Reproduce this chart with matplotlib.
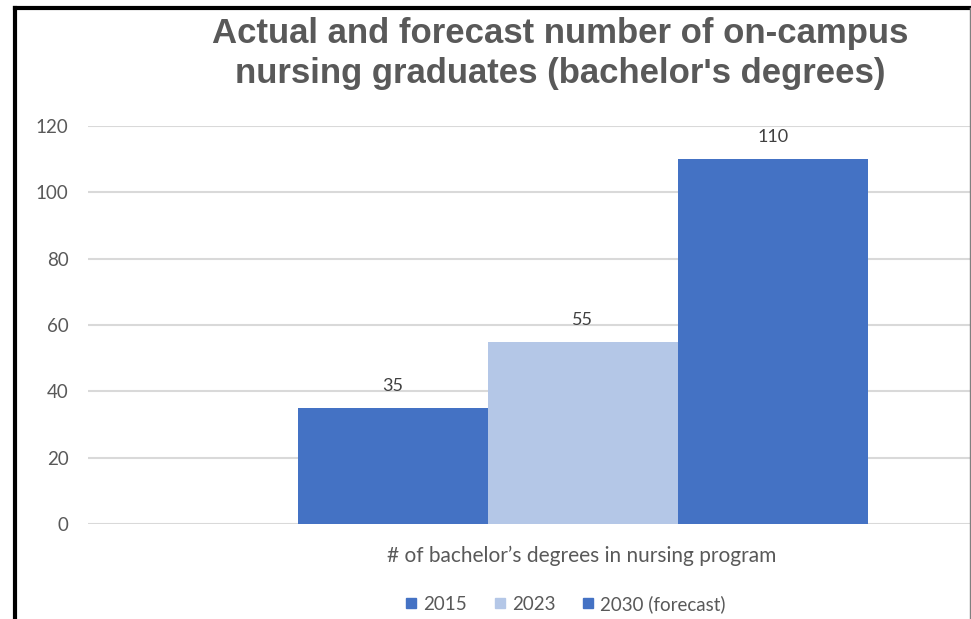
import matplotlib
matplotlib.use("Agg")
from matplotlib import pyplot as plt
from matplotlib.lines import Line2D

years = ["2015", "2023", "2030 (forecast)"]
graduates = [35, 55, 110]
colors = ["#4472C4", "#B4C7E7", "#4472C4"]
y_ticks = [0, 20, 40, 60, 80, 100, 120]
title = "Actual and forecast number of on-campus\nnursing graduates (bachelor's degrees)"
x_label = "# of bachelor\u2019s degrees in nursing program"

fig = plt.figure(figsize=(9.71, 6.19), dpi=100)
ax = fig.add_axes([88 / 971, 1 - 524 / 619, (970 - 88) / 971, (524 - 126) / 619])

positions = list(range(len(years)))
bars = ax.bar(positions, graduates, width=1.0, color=colors, label=years, zorder=3)

for b, v in zip(bars, graduates):
    ax.annotate(str(v), (b.get_x() + b.get_width() / 2, v), xytext=(0, 10),
                textcoords="offset points", ha="center", va="bottom",
                fontsize=13, color="#404040", family="Lato", annotation_clip=False)

ax.set_xlim(-1.605, 3.037)
ax.set_ylim(0, 120)
ax.set_yticks(y_ticks)
ax.set_xticks([])
ax.tick_params(axis="y", length=0, pad=14, labelsize=13.5, labelcolor="#595959")
for lab in ax.get_yticklabels():
    lab.set_family("Lato")
ax.grid(axis="y", color="#D9D9D9", linewidth=1.5, zorder=0)
for s in ax.spines.values():
    s.set_visible(False)

ax.set_xlabel(x_label, fontsize=15, color="#595959", family="Lato")
ax.xaxis.set_label_coords((582 - 88) / 882, (524 - 556) / 398)
ax.xaxis.label.set_va("center")

handles = [Line2D([], [], marker="s", linestyle="none", markersize=7.5, color=c) for c in colors]
fig.legend(handles, years, loc="center", bbox_to_anchor=(565 / 971, 1 - 604 / 619), ncol=3,
           frameon=False, handlelength=0.7, handletextpad=0.3, columnspacing=1.4,
           prop={"family": "Lato", "size": 13.5}, labelcolor="#595959")

fig.text(560 / 971, 1 - 17 / 619, title, ha="center", va="top", fontsize=25,
         fontweight="bold", color="#595959", family="Liberation Sans", linespacing=1.27)

# black frame on left / top, thin gray on right
fig.add_artist(Line2D([14.5 / 971, 14.5 / 971], [0, 1 - 7.5 / 619], color="black", linewidth=3,
                      transform=fig.transFigure, solid_capstyle="projecting"))
fig.add_artist(Line2D([14.5 / 971, 1], [1 - 7.5 / 619, 1 - 7.5 / 619], color="black", linewidth=3,
                      transform=fig.transFigure))
fig.add_artist(Line2D([969.5 / 971, 969.5 / 971], [0, 1 - 7.5 / 619], color="#808080", linewidth=1,
                      transform=fig.transFigure))

fig.savefig("out.png", dpi=100)
